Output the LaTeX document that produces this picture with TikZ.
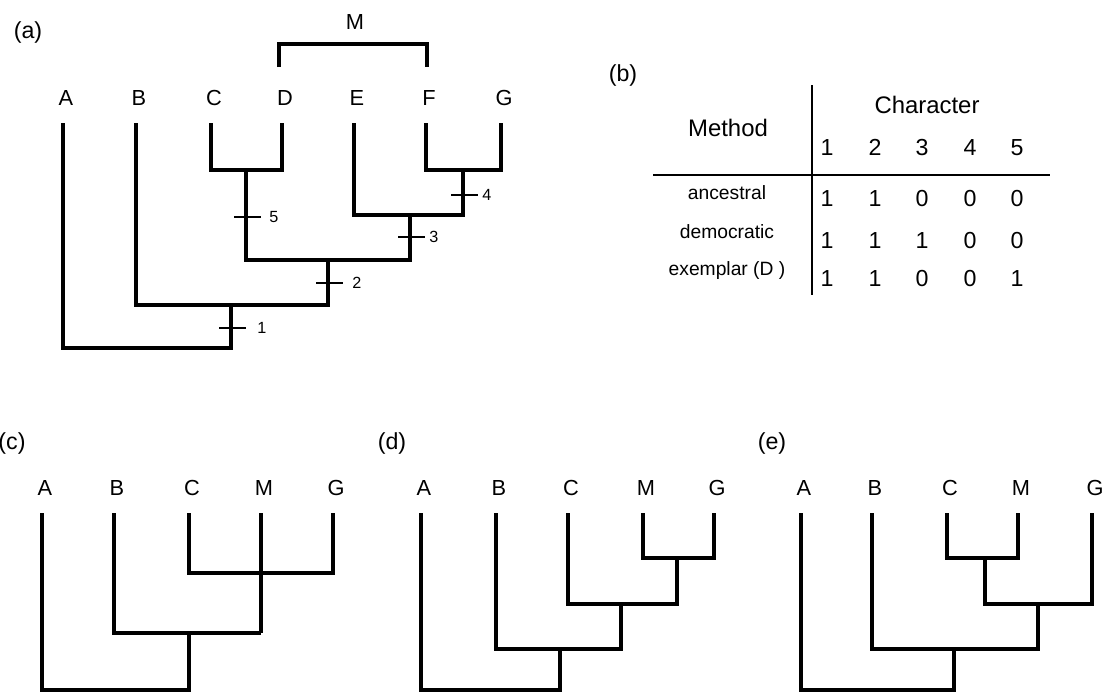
\documentclass[tikz,border=0pt]{standalone}
\usepackage{fontspec}
\setmainfont{Liberation Sans}
\tikzset{
  branch/.style={line width=2.6pt,line join=miter,line cap=butt},
  tickmark/.style={line width=1.4pt},
  tabrule/.style={line width=1.3pt},
  taxon/.style={font=\fontsize{15.5}{18}\selectfont,inner sep=0pt,
        text height=11.1pt,text depth=0pt},
  panel/.style={font=\fontsize{16.5}{19}\selectfont,inner sep=0pt},
  charno/.style={font=\fontsize{11.5}{14}\selectfont,inner sep=0pt,anchor=west,
        text height=8.2pt,text depth=0pt},
  tabhead/.style={font=\fontsize{17}{20}\selectfont,inner sep=0pt},
  tabrow/.style={font=\fontsize{13.7}{16}\selectfont,inner sep=0pt},
  tabcell/.style={font=\fontsize{16.5}{19}\selectfont,inner sep=0pt,
        text height=11.8pt,text depth=0pt},
}

\begin{document}
\begin{tikzpicture}[x=0.025cm,y=-0.025cm]
\useasboundingbox (0,0) rectangle (1112,693);

% (a) full tree with character changes
\node[panel] (la) at (28,32) {(a)};
\foreach \t/\x in {A/63,B/136,C/211,D/282,E/354,F/426,G/501}{
  \node[taxon] (a\t) at (\x+3,98) {\t};
  \coordinate (ta\t) at (\x,123);
}
\coordinate (aCD)   at (246,170);
\coordinate (aFG)   at (463,170);
\coordinate (aEFG)  at (410,215);
\coordinate (aCG)   at (328,260);
\coordinate (aBG)   at (231,305);
\coordinate (aroot) at (231,348);
\draw[branch] (taC) |- (aCD) -| (taD);
\draw[branch] (taF) |- (aFG) -| (taG);
\draw[branch] (taE) |- (aEFG) -| (aFG);
\draw[branch] (aCD) |- (aCG) -| (aEFG);
\draw[branch] (taB) |- (aBG) -| (aCG);
\draw[branch] (taA) |- (aroot) -| (aBG);
\foreach \n/\x/\y/\g in {1/231/328/11,2/328/283/9,3/410/237/4,4/463/195/4,5/246/217/8}{
  \draw[tickmark] (\x-12,\y) -- (\x+15,\y);
  \node[charno] (ch\n) at (\x+15+\g,\y) {\n};
}
% M groups D and F
\node[taxon] (aM) at (355,22) {M};
\coordinate (mD)   at (279,67);
\coordinate (mF)   at (427,67);
\coordinate (mtop) at (355,44);
\draw[branch] (mD) |- (mtop) -| (mF);

% (b) table
\node[panel] (lb) at (623,75) {(b)};
\coordinate (vtop) at (812,85);
\coordinate (vbot) at (812,295);
\coordinate (hl) at (653,175);
\coordinate (hr) at (1050,175);
\draw[tabrule] (vtop) -- (vbot);
\draw[tabrule] (hl) -- (hr);
\node[tabhead] (meth) at (728,128) {Method};
\node[tabhead] (chr) at (927,105) {Character};
\foreach \c/\x in {1/827,2/875,3/922,4/970,5/1017}
  \node[tabcell] (col\c) at (\x,147) {\c};
\foreach \name/\ly/\vy/\vals [count=\r] in {ancestral/193/198/{1,1,0,0,0},
    democratic/232/240/{1,1,1,0,0},{exemplar (D )}/271/278/{1,1,0,0,1}}{
  \node[tabrow] (row\r) at (727,\ly) {\name};
  \foreach \v [count=\i] in \vals
    \node[tabcell] (v\r\i) at (col\i |- 0,\vy) {\v};
}

% (c)
\node[panel] (lc) at (12,443) {(c)};
\foreach \t/\x in {A/42,B/114,C/189,M/261,G/333}{
  \node[taxon] (c\t) at (\x+3,488) {\t};
  \coordinate (tc\t) at (\x,513);
}
\coordinate (cCG)   at (261,573);
\coordinate (cCMG)  at (261,633);
\coordinate (cBG)   at (189,633);
\coordinate (croot) at (189,690);
\draw[branch] (tcC) |- (cCG) -| (tcG);
\draw[branch] (tcM) -- (cCMG);
\draw[branch] (tcB) |- (cBG) -| (cCMG);
\draw[branch] (tcA) |- (croot) -| (cBG);

% (d)
\node[panel] (ld) at (392,443) {(d)};
\foreach \t/\x in {A/421,B/496,C/568,M/643,G/714}{
  \node[taxon] (d\t) at (\x+3,488) {\t};
  \coordinate (td\t) at (\x,513);
}
\coordinate (dMG)   at (677,558);
\coordinate (dCG)   at (621,604);
\coordinate (dBG)   at (560,649);
\coordinate (droot) at (560,690);
\draw[branch] (tdM) |- (dMG) -| (tdG);
\draw[branch] (tdC) |- (dCG) -| (dMG);
\draw[branch] (tdB) |- (dBG) -| (dCG);
\draw[branch] (tdA) |- (droot) -| (dBG);

% (e)
\node[panel] (le) at (772,443) {(e)};
\foreach \t/\x in {A/801,B/872,C/947,M/1018,G/1092}{
  \node[taxon] (e\t) at (\x+3,488) {\t};
  \coordinate (te\t) at (\x,513);
}
\coordinate (eCM)   at (985,558);
\coordinate (eCG)   at (1038,604);
\coordinate (eBG)   at (954,649);
\coordinate (eroot) at (954,690);
\draw[branch] (teC) |- (eCM) -| (teM);
\draw[branch] (eCM) |- (eCG) -| (teG);
\draw[branch] (teB) |- (eBG) -| (eCG);
\draw[branch] (teA) |- (eroot) -| (eBG);
\end{tikzpicture}
\end{document}
